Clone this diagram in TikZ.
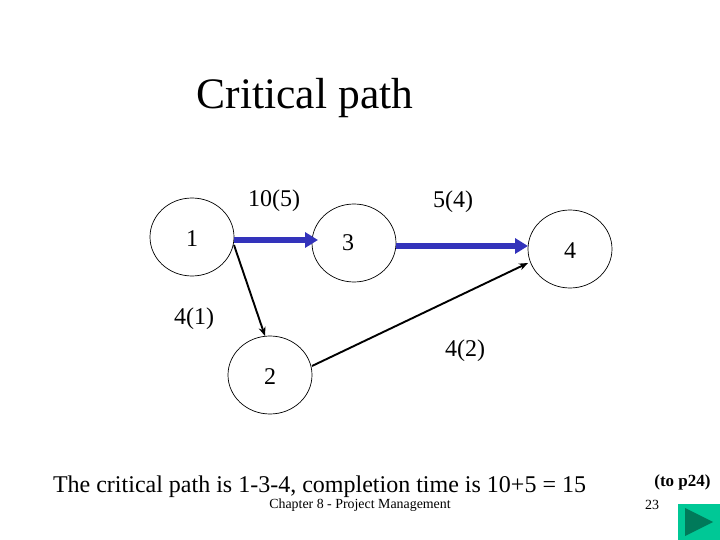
\documentclass[tikz,border=0pt]{standalone}
\usepackage{fontspec}
\setmainfont{Liberation Serif}
\definecolor{pathblue}{RGB}{51, 51, 187}
\definecolor{buttongreen}{RGB}{0, 200, 150}
\definecolor{buttondark}{RGB}{0, 122, 90}
\usetikzlibrary{shapes.geometric, arrows.meta, positioning}

\begin{document}
\begin{tikzpicture}[
        x=1pt, y=-1pt,
        event/.style={ellipse, draw=black, line width=0.7pt, minimum width=84pt,
                    minimum height=78pt, inner sep=0pt, outer sep=0pt, text height=19pt,
                    font=\fontsize{24}{26}\selectfont},
        tag/.style={inner sep=0pt, font=\fontsize{24}{26}\selectfont},
        critical/.style={-{Triangle[length=13pt,width=15pt]}, line width=5.5pt, color=pathblue},
        arrow/.style={-{Stealth[length=9pt,width=7pt]}, line width=1.9pt, color=black}
      ]
        \useasboundingbox (0,0) rectangle (720,540);
        \node[inner sep=0pt, font=\fontsize{43.5}{46}\selectfont] (title) at (305,98) {Critical path};
        \node[event] (n1) at (192,237) {1};
        \node[event, right=78pt of n1, yshift=-6pt, label={[tag, xshift=-6pt]center:3}] (n3) {};
        \node[event, right=132pt of n3, yshift=-6pt] (n4) {4};
        \node[event, below=60pt of n1, xshift=78pt] (n2) {2};
        \node[tag] (t13) at (274,201) {10(5)};
        \node[tag] (t34) at (453,202) {5(4)};
        \node[tag] (t12) at (194,319) {4(1)};
        \node[tag] (t24) at (465,351) {4(2)};
        \node[tag] (summary) at (319.5,487) {The critical path is 1-3-4, completion time is 10+5 = 15};
        \node[inner sep=0pt, font=\fontsize{13.9}{16}\selectfont] (chapter) at (360,505) {Chapter 8 - Project Management};
        \node[inner sep=0pt, font=\fontsize{17}{19}\selectfont\bfseries] (link) at (682.5,482.5) {(to p24)};
        \node[inner sep=0pt, font=\fontsize{14}{16}\selectfont] (page) at (652,505) {23};
        \node[rectangle, fill=buttongreen, minimum width=42pt, minimum height=36pt,
              inner sep=0pt, anchor=north west] (button) at (678,504) {};
        \fill[buttondark] (685,508) -- (713,522) -- (685,536) -- cycle;
        \draw[critical] ([yshift=-3pt]n1.east) -- ([xshift=6pt,yshift=3pt]n3.west);
        \draw[critical] ([yshift=-3pt]n3.east) -- ([yshift=3pt]n4.west);
        \draw[arrow] ([yshift=-8pt]n1.east) -- ([xshift=-5pt]n2.north);
        \draw[arrow] ([yshift=9pt]n2.east) -- ([yshift=-14pt]n4.west);
      \end{tikzpicture}
\end{document}
